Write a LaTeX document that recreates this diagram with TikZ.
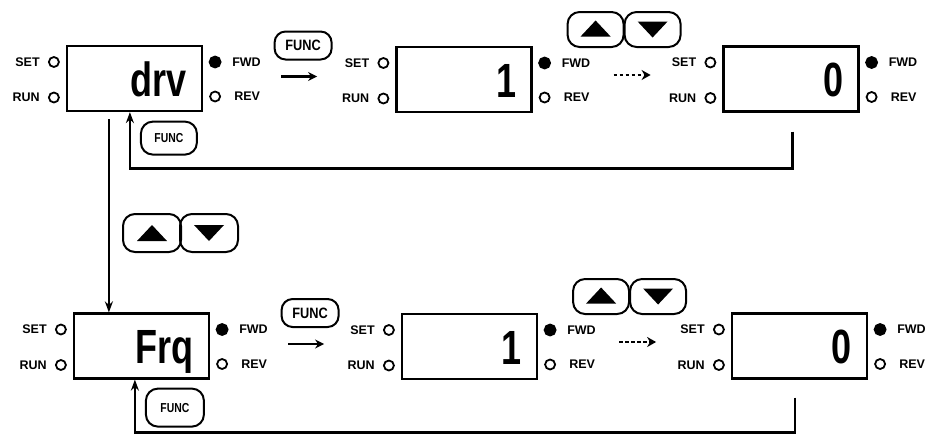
\documentclass[tikz,border=0pt]{standalone}
\usepackage{fontspec}
\setmainfont{Liberation Sans}
\usetikzlibrary{calc,arrows.meta}
\tikzset{
  disp/.style={draw, line width=2.2pt, minimum width=135pt, minimum height=65pt, inner sep=0pt},
  bigtxt/.style={inner sep=0pt, font=\fontsize{48}{48}\selectfont\bfseries},
  led/.style={circle, draw, line width=1.8pt, minimum size=10pt, inner sep=0pt},
  ledon/.style={led, fill=black, minimum size=11pt},
  lbl/.style={inner sep=0pt, font=\fontsize{12.5}{12.5}\selectfont\bfseries},
  btn/.style={draw, line width=2pt, rounded corners=12pt, minimum width=56pt, minimum height=33pt, inner sep=0pt},
  sbtn/.style={btn, minimum width=56pt, minimum height=35pt, font=\fontsize{13}{13}\selectfont\bfseries},
  flow/.style={line width=2.4pt, -{Stealth[length=11pt,width=8pt]}},
  keyarrow/.style={line width=2.6pt, -{Stealth[length=9pt,width=9pt]}},
  dasharrow/.style={line width=2.4pt, dash pattern=on 3.5pt off 2.5pt, -{Stealth[length=9pt,width=10pt]}}
}
\begin{document}
\begin{tikzpicture}[x=1pt, y=-1pt]
  \useasboundingbox (0,0) rectangle (926,434);
  % displays with their indicator lamps
  \foreach \n/\x/\y/\txt in {1/134.5/78.5/drv, 2/464/79.5/1, 3/791/79/0,
                              4/141.5/346/Frq, 5/469.5/346.5/1, 6/799.5/346/0}{
    \node[disp] (d\n) at (\x,\y) {};
    \node[bigtxt, anchor=base east] (t\n) at ($(d\n.east)+(-16,17.5)$) {\scalebox{0.75}[1]{\txt}};
    \node[led] (set\n) at ($(d\n.west)+(-12,-16.5)$) {};
    \node[lbl, anchor=east] (setl\n) at ($(d\n.west)+(-26,-16.5)$) {SET};
    \node[led] (run\n) at ($(d\n.west)+(-12,19)$) {};
    \node[lbl, anchor=east] (runl\n) at ($(d\n.west)+(-26,19)$) {RUN};
    \node[ledon] (fwd\n) at ($(d\n.east)+(12,-16.5)$) {};
    \node[lbl, anchor=west] (fwdl\n) at ($(d\n.east)+(29,-16.5)$) {FWD};
    \node[led] (rev\n) at ($(d\n.east)+(12,18)$) {};
    \node[lbl, anchor=west] (revl\n) at ($(d\n.east)+(31,18)$) {REV};
  }
  % FUNC keys between first and second display
  \foreach \r/\a in {1/1, 2/4}{
    \node[btn, lbl, font=\fontsize{15}{15}\selectfont\bfseries, minimum width=57pt, minimum height=28pt, rounded corners=11pt] (f\r) at ($(d\a.east)+(100,-33)$) {\scalebox{0.85}[1]{FUNC}};
    \draw[keyarrow] ($(f\r.south)+(-22,16)$) -- ++(36,0);
  }
  % up/down keys and dashed arrows
  \foreach \r/\a in {1/2, 2/5}{
    \node[btn, minimum height=35pt] (up\r) at ($(d\a.east)+(63,-50)$) {};
    \node[btn, minimum height=35pt] (dn\r) at ($(d\a.east)+(120,-50)$) {};
    \fill ($(up\r)+(-15,7)$) -- ++(30,0) -- ++(-15,-16) -- cycle;
    \fill ($(dn\r)+(-15,-8)$) -- ++(30,0) -- ++(-15,16) -- cycle;
    \draw[dasharrow] ($(d\a.east)+(81,-4.5)$) -- ++(37,0);
  }
  % keys between the two rows
  \node[btn, minimum width=58pt, minimum height=38pt] (upm) at (152,233) {};
  \node[btn, minimum width=58pt, minimum height=38pt] (dnm) at (209,233) {};
  \fill ($(upm)+(-15,8)$) -- ++(30,0) -- ++(-15,-16) -- cycle;
  \fill ($(dnm)+(-15,-8)$) -- ++(30,0) -- ++(-15,16) -- cycle;
  \coordinate (v1) at ($(d1.south west)+(43,7)$);
  \draw[flow] (v1) -- (v1 |- d4.north);
  % return paths
  \coordinate (a1) at ($(d1.south west)+(64,0)$);
  \coordinate (r1) at ($(d3.south west)+(70,19)$);
  \draw[flow] (r1) -- ++(0,37) -| (a1);
  \node[sbtn, minimum height=33pt] (sf1) at ($(a1)+(39,26)$) {\scalebox{0.8}[1]{FUNC}};
  \coordinate (a2) at ($(d4.south west)+(62,0)$);
  \coordinate (r2) at ($(d6.south west)+(64,18)$);
  \draw[flow] (r2) -- ++(0,35) -| (a2);
  \node[sbtn, minimum width=58pt, minimum height=38pt] (sf2) at ($(a2)+(40,28)$) {\scalebox{0.8}[1]{FUNC}};
\end{tikzpicture}
\end{document}
